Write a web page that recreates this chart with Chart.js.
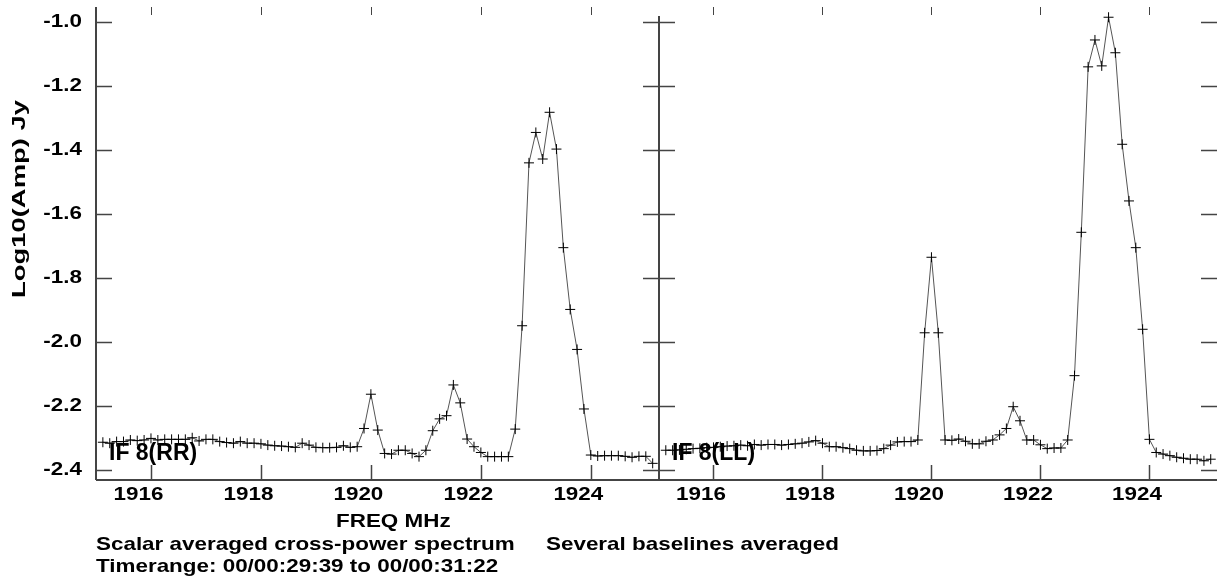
<!DOCTYPE html>
<html>
<head>
<meta charset="utf-8">
<script src="https://cdn.jsdelivr.net/npm/chart.js@4.4.1/dist/chart.umd.min.js"></script>
<style>
  html, body { margin: 0; padding: 0; background: #fff; }
  #wrap { position: relative; width: 1223px; height: 580px; }
  #wrap canvas { position: absolute; left: 0; top: 0; }
</style>
</head>
<body>
<div id="wrap">
  <canvas id="rrChart" width="1223" height="580"></canvas>
  <canvas id="llChart" width="1223" height="580"></canvas>
</div>
<script>
// Channel frequencies (MHz)
const freqs = [
  1915.125, 1915.25, 1915.375, 1915.5, 1915.625, 1915.75, 1915.875, 1916,
  1916.125, 1916.25, 1916.375, 1916.5, 1916.625, 1916.75, 1916.875, 1917,
  1917.125, 1917.25, 1917.375, 1917.5, 1917.625, 1917.75, 1917.875, 1918,
  1918.125, 1918.25, 1918.375, 1918.5, 1918.625, 1918.75, 1918.875, 1919,
  1919.125, 1919.25, 1919.375, 1919.5, 1919.625, 1919.75, 1919.875, 1920,
  1920.125, 1920.25, 1920.375, 1920.5, 1920.625, 1920.75, 1920.875, 1921,
  1921.125, 1921.25, 1921.375, 1921.5, 1921.625, 1921.75, 1921.875, 1922,
  1922.125, 1922.25, 1922.375, 1922.5, 1922.625, 1922.75, 1922.875, 1923,
  1923.125, 1923.25, 1923.375, 1923.5, 1923.625, 1923.75, 1923.875, 1924,
  1924.125, 1924.25, 1924.375, 1924.5, 1924.625, 1924.75, 1924.875, 1925,
  1925.125
];

// Log10(Amp) Jy, IF 8 RR
const ampRR = [
  -2.313, -2.316, -2.311, -2.311, -2.306, -2.308, -2.306, -2.301, -2.306, -2.304,
  -2.304, -2.304, -2.304, -2.299, -2.309, -2.304, -2.304, -2.311, -2.314, -2.316,
  -2.311, -2.316, -2.316, -2.318, -2.322, -2.324, -2.325, -2.327, -2.329, -2.316,
  -2.322, -2.329, -2.330, -2.330, -2.329, -2.324, -2.329, -2.327, -2.270, -2.163,
  -2.275, -2.348, -2.350, -2.338, -2.338, -2.348, -2.358, -2.338, -2.277, -2.240,
  -2.230, -2.134, -2.190, -2.303, -2.327, -2.345, -2.358, -2.358, -2.358, -2.358,
  -2.272, -1.949, -1.440, -1.345, -1.428, -1.282, -1.397, -1.705, -1.898, -2.023,
  -2.209, -2.353, -2.356, -2.355, -2.355, -2.355, -2.357, -2.360, -2.357, -2.357,
  -2.379
];

// Log10(Amp) Jy, IF 8 LL
const ampLL = [
  -2.338, -2.338, -2.337, -2.335, -2.333, -2.332, -2.330, -2.329, -2.327, -2.325,
  -2.324, -2.322, -2.324, -2.320, -2.322, -2.320, -2.320, -2.322, -2.320, -2.318,
  -2.316, -2.312, -2.308, -2.316, -2.327, -2.327, -2.330, -2.333, -2.338, -2.340,
  -2.340, -2.339, -2.333, -2.322, -2.312, -2.311, -2.311, -2.306, -1.971, -1.735,
  -1.971, -2.306, -2.307, -2.303, -2.310, -2.318, -2.318, -2.310, -2.306, -2.290,
  -2.270, -2.202, -2.246, -2.306, -2.306, -2.321, -2.333, -2.331, -2.331, -2.306,
  -2.105, -1.657, -1.140, -1.056, -1.137, -0.985, -1.096, -1.382, -1.559, -1.705,
  -1.960, -2.304, -2.345, -2.350, -2.355, -2.360, -2.363, -2.366, -2.366, -2.371,
  -2.366
];

// Tick values and labels
const freqTicks = [1916, 1918, 1920, 1922, 1924];
const ampTicks = [-1.0, -1.2, -1.4, -1.6, -1.8, -2.0, -2.2, -2.4];
const ampTickLabels = ['-1.0', '-1.2', '-1.4', '-1.6', '-1.8', '-2.0', '-2.2', '-2.4'];

const yTitle = 'Log10(Amp) Jy';
const xTitle = 'FREQ MHz';
const footer1 = 'Scalar averaged cross-power spectrum';
const footer2 = 'Several baselines averaged';
const footer3 = 'Timerange: 00/00:29:39 to 00/00:31:22';

const FONT = '"Liberation Sans", Arial, sans-serif';
const STRETCH = 1.18;

// text drawn a bit wider than the font, like the original plotter output
function wideText(ctx, text, x, y, align, sx) {
  ctx.save();
  ctx.translate(x, y);
  ctx.scale(sx, 1);
  ctx.textAlign = align;
  ctx.textBaseline = 'middle';
  ctx.fillText(text, 0, 0);
  ctx.restore();
}

const frame = {
  id: 'frame',
  afterDraw(chart, args, opts) {
    const { ctx, chartArea: a, scales: { x, y } } = chart;
    ctx.save();
    ctx.strokeStyle = '#444';
    ctx.lineCap = 'butt';

    // axis lines
    ctx.lineWidth = 2;
    ctx.beginPath();
    ctx.moveTo(a.left, a.bottom);
    ctx.lineTo(a.right, a.bottom);
    if (opts.left) {
      ctx.moveTo(a.left, a.top);
      ctx.lineTo(a.left, a.bottom);
      ctx.moveTo(a.right, a.top + 9);
      ctx.lineTo(a.right, a.bottom);
    }
    ctx.stroke();

    // y ticks pointing inwards on both sides
    ctx.lineWidth = 1.5;
    ctx.beginPath();
    ampTicks.forEach(v => {
      const py = Math.round(y.getPixelForValue(v)) + 0.5;
      ctx.moveTo(a.left, py); ctx.lineTo(a.left + 16, py);
      ctx.moveTo(a.right, py); ctx.lineTo(a.right - 16, py);
    });
    // x ticks, long at bottom, short at top
    freqTicks.forEach(v => {
      const px = Math.round(x.getPixelForValue(v)) + 0.5;
      ctx.moveTo(px, a.bottom); ctx.lineTo(px, a.bottom - 15);
    });
    ctx.stroke();
    ctx.lineWidth = 1;
    ctx.beginPath();
    freqTicks.forEach(v => {
      const px = Math.round(x.getPixelForValue(v)) + 0.5;
      ctx.moveTo(px, a.top); ctx.lineTo(px, a.top + 8);
    });
    ctx.stroke();

    ctx.fillStyle = '#000';
    ctx.font = 'bold 19px ' + FONT;
    freqTicks.forEach(v => {
      wideText(ctx, String(v), x.getPixelForValue(v) - 12.5, 495, 'center', STRETCH);
    });

    if (opts.left) {
      ampTicks.forEach((v, i) => {
        wideText(ctx, ampTickLabels[i], a.left - 14, y.getPixelForValue(v), 'right', STRETCH);
      });

      wideText(ctx, xTitle, 336, 522, 'left', STRETCH);
      wideText(ctx, footer1, 96, 545, 'left', STRETCH);
      wideText(ctx, footer2, 546, 545, 'left', STRETCH);
      wideText(ctx, footer3, 96, 567, 'left', STRETCH);

      // rotated y title, stretched to its length in the original
      ctx.save();
      ctx.translate(20, 199);
      ctx.rotate(-Math.PI / 2);
      ctx.font = 'bold 19px ' + FONT;
      const w = ctx.measureText(yTitle).width;
      wideText(ctx, yTitle, 0, 0, 'center', 198 / w);
      ctx.restore();
    }

    // panel label
    ctx.font = 'bold 23px ' + FONT;
    ctx.textAlign = 'left';
    ctx.textBaseline = 'alphabetic';
    ctx.fillText(opts.label, a.left + 13, 460);
    ctx.restore();
  }
};

function makeChart(id, amps, label, isLeft) {
  const pts = freqs.map((f, i) => ({ x: f, y: amps[i] }));
  return new Chart(document.getElementById(id), {
    type: 'line',
    data: {
      datasets: [{
        data: pts,
        borderColor: '#555',
        borderWidth: 1,
        pointStyle: 'cross',
        pointRadius: 5,
        pointBorderColor: '#000',
        pointBorderWidth: 1,
        tension: 0,
        fill: false
      }]
    },
    options: {
      responsive: false,
      animation: false,
      layout: {
        padding: isLeft
          ? { left: 96, top: 7, right: 564, bottom: 100 }
          : { left: 659, top: 7, right: 0, bottom: 100 }
      },
      scales: {
        x: { type: 'linear', min: 1915.0, max: 1925.24, display: false },
        y: { type: 'linear', min: -2.431, max: -0.953, display: false }
      },
      plugins: {
        legend: { display: false },
        tooltip: { enabled: false },
        frame: { label: label, left: isLeft }
      }
    },
    plugins: [frame]
  });
}

makeChart('rrChart', ampRR, 'IF 8(RR)', true);
makeChart('llChart', ampLL, 'IF 8(LL)', false);
</script>
</body>
</html>
